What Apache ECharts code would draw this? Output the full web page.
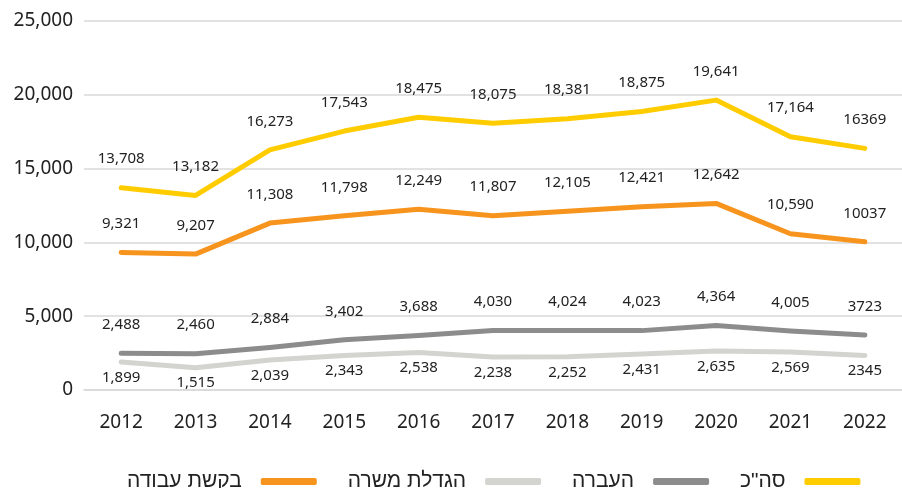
<!DOCTYPE html>
<html>
<head>
<meta charset="utf-8">
<script src="https://cdn.jsdelivr.net/npm/echarts@6/dist/echarts.min.js"></script>
<style>
  html, body { margin: 0; padding: 0; background: #fff; }
  #chart { width: 902px; height: 488px; }
</style>
</head>
<body>
<div id="chart"></div>
<script>
// Years on the category axis
const years = ['2012', '2013', '2014', '2015', '2016', '2017', '2018', '2019', '2020', '2021', '2022'];

// Series values per year
const total = [13708, 13182, 16273, 17543, 18475, 18075, 18381, 18875, 19641, 17164, 16369];
const jobRequest = [9321, 9207, 11308, 11798, 12249, 11807, 12105, 12421, 12642, 10590, 10037];
const transfer = [2488, 2460, 2884, 3402, 3688, 4030, 4024, 4023, 4364, 4005, 3723];
const positionIncrease = [1899, 1515, 2039, 2343, 2538, 2238, 2252, 2431, 2635, 2569, 2345];

// Series names (legend)
const names = {
  total: 'סה"כ',
  transfer: 'העברה',
  positionIncrease: 'הגדלת משרה',
  jobRequest: 'בקשת עבודה'
};

const FONT = '"Noto Sans", "Open Sans", sans-serif';

// Last year's labels are printed without thousands separators
function labelText(p) {
  return p.dataIndex === years.length - 1 ? String(p.value) : p.value.toLocaleString('en-US');
}

function lineSeries(name, data, color, pos, dist) {
  return {
    name: name,
    type: 'line',
    data: data,
    symbol: 'circle',
    symbolSize: 0,
    showSymbol: true,
    lineStyle: { color: color, width: 5, cap: 'round', join: 'round' },
    itemStyle: { color: color },
    label: {
      show: true,
      position: pos,
      distance: dist,
      color: '#222',
      fontSize: 15,
      fontFamily: FONT,
      formatter: labelText
    },
    emphasis: { disabled: true }
  };
}

const chart = echarts.init(document.getElementById('chart'), null, { renderer: 'canvas' });
chart.setOption({
  animation: false,
  backgroundColor: '#fff',
  grid: { left: 84, right: -8, top: 21, bottom: 98 },
  legend: {
    top: 466,
    left: 122,
    align: 'right',
    itemWidth: 56,
    itemHeight: 7,
    itemGap: 31,
    icon: 'roundRect',
    textStyle: {
      fontSize: 21,
      color: '#222',
      fontFamily: '"Liberation Sans", Arial, sans-serif',
      padding: [0, 14, 0, 0]
    },
    data: [names.jobRequest, names.positionIncrease, names.transfer, names.total]
  },
  xAxis: {
    type: 'category',
    data: years,
    boundaryGap: true,
    axisLine: { show: true, lineStyle: { color: '#d9d9d9', width: 1.5 } },
    axisTick: { show: false },
    axisLabel: { color: '#222', fontSize: 19, margin: 23, fontFamily: FONT }
  },
  yAxis: {
    type: 'value',
    min: 0,
    max: 25000,
    interval: 5000,
    axisLine: { show: false },
    axisTick: { show: false },
    splitLine: { lineStyle: { color: '#d9d9d9', width: 1.5 } },
    axisLabel: {
      color: '#222',
      fontSize: 19,
      margin: 11,
      fontFamily: FONT,
      formatter: v => v.toLocaleString('en-US')
    }
  },
  series: [
    lineSeries(names.positionIncrease, positionIncrease, '#d3d3cf', 'bottom', 8),
    lineSeries(names.transfer, transfer, '#8c8c8c', 'top', 21),
    lineSeries(names.jobRequest, jobRequest, '#f7941d', 'top', 21),
    lineSeries(names.total, total, '#ffcc00', 'top', 21)
  ]
});
</script>
</body>
</html>
